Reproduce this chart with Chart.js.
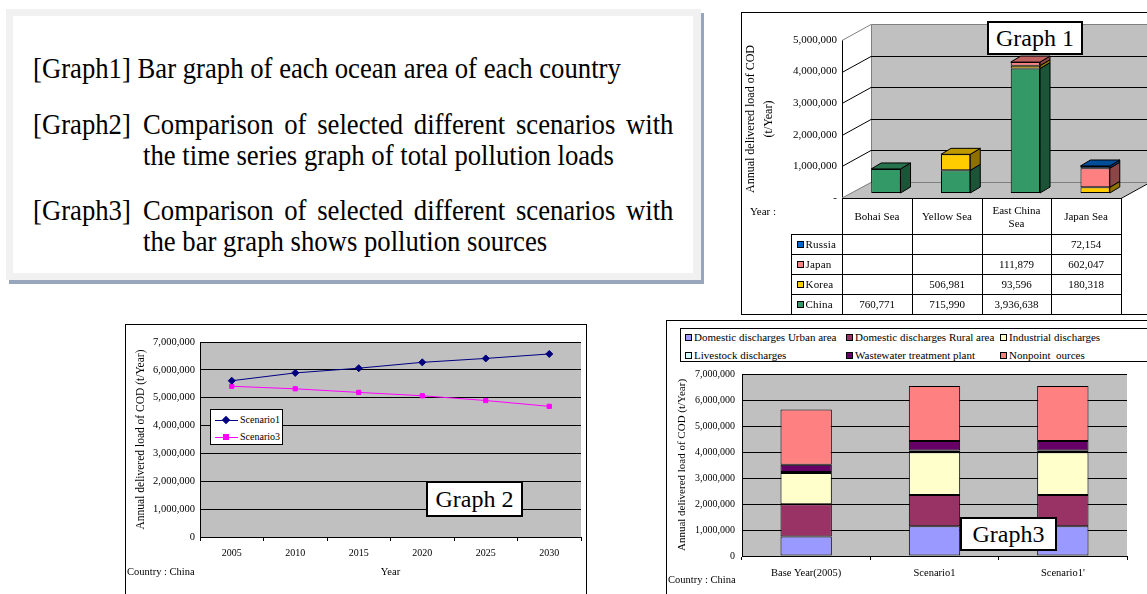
<!DOCTYPE html>
<html>
<head>
<meta charset="utf-8">
<title>COD pollution loads</title>
<script src="https://cdn.jsdelivr.net/npm/chart.js@4/dist/chart.umd.min.js"></script>
<style>
  html, body { margin: 0; padding: 0; background: #fff; }
  body { width: 1147px; height: 594px; position: relative; overflow: hidden;
         font-family: "Liberation Serif", "Times New Roman", serif; color: #000; }
  .abs { position: absolute; }
  #note { left: 6px; top: 9px; width: 695px; height: 271px; background: #f1f1f1;
          box-shadow: 3px 4px 0 #97a6bd; }
  #noteInner { left: 13px; top: 16px; width: 680px; height: 257px; background: #fff; }
  .nl { position: absolute; font-size: 30px; line-height: 31px; white-space: nowrap;
        transform: scaleX(0.89); transform-origin: 0 0; }
  .just { text-align: justify; text-align-last: justify; white-space: normal; }
  .frame { position: absolute; border: 1px solid #000; box-sizing: border-box; background: #fff; }
  .tag { position: absolute; box-sizing: border-box; border: 2px solid #000; background: #fff;
         font-size: 24px; text-align: center; white-space: nowrap; }
  canvas { position: absolute; }
  #t1 { position: absolute; left: 742px; top: 198px; border-collapse: collapse; table-layout: fixed;
        font-size: 11px; }
  #t1 td { border: 1px solid #000; padding: 0; text-align: center; vertical-align: middle;
           line-height: 13px; }
  #t1 td.nb { border: none; }
  #t1 td.key { text-align: left; padding-left: 5px; white-space: nowrap; letter-spacing: 0.2px; }
  #t1 td.yr { text-align: left; vertical-align: top; padding: 6px 0 0 8px; }
  .sw { display: inline-block; width: 7px; height: 7px; box-sizing: border-box; border: 1px solid #000;
        margin-right: 2px; vertical-align: 0px; }
  .small { position: absolute; font-size: 10.5px; white-space: nowrap; }
  #lg2 { left: 210px; top: 409px; width: 73px; height: 36px; border: 1px solid #000; box-sizing: border-box;
         background: #fff; }
  #lg3 { left: 680px; top: 328px; width: 480px; height: 34px; border: 1px solid #000; box-sizing: border-box;
         background: #fff; }
  .li { position: absolute; font-size: 11px; white-space: pre; line-height: 13px; }
</style>
</head>
<body>

<!-- description panel -->
<div id="note" class="abs"></div>
<div id="noteInner" class="abs"></div>
<div class="nl" style="left:33px; top:52px;">[Graph1] Bar graph of each ocean area of each country</div>
<div class="nl" style="left:33px; top:108px;">[Graph2]</div>
<div class="nl just" style="left:143px; top:108px; width:596px;">Comparison of selected different scenarios with</div>
<div class="nl" style="left:143px; top:139px;">the time series graph of total pollution loads</div>
<div class="nl" style="left:33px; top:194px;">[Graph3]</div>
<div class="nl just" style="left:143px; top:194px; width:596px;">Comparison of selected different scenarios with</div>
<div class="nl" style="left:143px; top:225px;">the bar graph shows pollution sources</div>

<!-- Graph 1 -->
<div class="frame" style="left:741px; top:12px; width:500px; height:303px;"></div>
<canvas id="c1" width="405" height="200" style="left:742px; top:13px;"></canvas>
<table id="t1"></table>
<div class="tag" style="left:987px; top:21px; width:96px; height:34px; line-height:30px;">Graph 1</div>

<!-- Graph 2 -->
<div class="frame" style="left:125px; top:324px; width:462px; height:290px;"></div>
<canvas id="c2" width="460" height="269" style="left:126px; top:325px;"></canvas>
<div id="lg2" class="abs"></div>
<div class="tag" style="left:426px; top:481px; width:97px; height:36px; line-height:32px;">Graph 2</div>
<div class="small" style="left:127px; top:566px;">Country : China</div>

<!-- Graph 3 -->
<div class="frame" style="left:666px; top:320px; width:500px; height:290px;"></div>
<canvas id="c3" width="480" height="273" style="left:667px; top:321px;"></canvas>
<div id="lg3" class="abs"></div>
<div class="tag" style="left:960px; top:517px; width:97px; height:34px; line-height:30px;">Graph3</div>
<div class="small" style="left:668px; top:574px;">Country : China</div>

<script>
// ---- Graph 1: annual delivered COD load by sea area and country (t/year) ----
const seaAreas   = ['Bohai Sea', 'Yellow Sea', 'East China Sea', 'Japan Sea'];
const chinaLoad  = [760771, 715990, 3936638, null];
const koreaLoad  = [null, 506981, 93596, 180318];
const japanLoad  = [null, null, 111879, 602047];
const russiaLoad = [null, null, null, 72154];
const loadTicks1 = [0, 1000000, 2000000, 3000000, 4000000, 5000000];

// ---- Graph 2: total load time series, China (t/year) ----
const years     = ['2005', '2010', '2015', '2020', '2025', '2030'];
const scenario1 = [5610000, 5890000, 6060000, 6270000, 6410000, 6570000];
const scenario3 = [5410000, 5320000, 5190000, 5070000, 4900000, 4690000];

// ---- Graph 3: load by pollution source, China (t/year) ----
const cases         = ['Base Year(2005)', 'Scenario1', "Scenario1'"];
const urbanLoad     = [750000, 1140000, 1140000];
const ruralLoad     = [1240000, 1210000, 1210000];
const industryLoad  = [1200000, 1640000, 1640000];
const livestockLoad = [40000, 70000, 70000];
const wwtpLoad      = [280000, 360000, 360000];
const nonpointLoad  = [2120000, 2120000, 2120000];

const serif = '"Liberation Serif", "Times New Roman", serif';
Chart.defaults.font.family = serif;
Chart.defaults.color = '#000';
Chart.defaults.animation = false;
Chart.defaults.responsive = false;
Chart.defaults.plugins.legend.display = false;
Chart.defaults.plugins.tooltip.enabled = false;

const fmt = v => v.toLocaleString('en-US');

function shade(hex, f) {
  const n = parseInt(hex.slice(1), 16);
  const r = Math.round(((n >> 16) & 255) * f);
  const g = Math.round(((n >> 8) & 255) * f);
  const b = Math.round((n & 255) * f);
  return `rgb(${r},${g},${b})`;
}

// grey plotting area behind grid and series
const plotBg = {
  id: 'plotBg',
  beforeDraw(chart, args, o) {
    const { ctx, chartArea: a } = chart;
    ctx.save();
    ctx.fillStyle = o.color;
    ctx.fillRect(a.left, a.top, a.right - a.left, a.bottom - a.top);
    ctx.restore();
  }
};

// pseudo-3D look: walls, floor, and bars pushed back with side/top faces
const depth3d = {
  id: 'depth3d',
  beforeDatasetsDraw(chart, args, o) {
    const { ctx, chartArea: a, scales: { y } } = chart;
    const far = chart.width + 4;
    const y0 = y.getPixelForValue(0);
    const yt = y.getPixelForValue(y.max);
    const wx = o.wallDx, wy = o.wallDy;
    ctx.save();
    ctx.lineWidth = 1;
    // back wall
    ctx.fillStyle = '#c0c0c0';
    ctx.fillRect(a.left + wx, yt + wy, far - (a.left + wx), y0 - yt);
    // floor
    ctx.beginPath();
    ctx.moveTo(a.left, y0); ctx.lineTo(a.right, y0);
    ctx.lineTo(a.right + wx, y0 + wy); ctx.lineTo(a.left + wx, y0 + wy);
    ctx.closePath(); ctx.fill();
    // wall outline
    ctx.strokeStyle = '#808080';
    ctx.beginPath();
    ctx.moveTo(a.left + wx + 0.5, y0 + wy); ctx.lineTo(a.left + wx + 0.5, yt + wy + 0.5);
    ctx.lineTo(far, yt + wy + 0.5);
    ctx.moveTo(a.left, yt + 0.5); ctx.lineTo(a.left + wx, yt + wy + 0.5);
    ctx.moveTo(a.left, y0); ctx.lineTo(a.left + wx, y0 + wy + 0.5); ctx.lineTo(far, y0 + wy + 0.5);
    ctx.stroke();
    // grid lines folded over the side wall and back wall
    ctx.strokeStyle = '#000';
    ctx.beginPath();
    y.ticks.forEach(t => {
      if (t.value === 0 || t.value === y.max) return;
      const py = Math.round(y.getPixelForValue(t.value)) + 0.5;
      ctx.moveTo(a.left, py); ctx.lineTo(a.left + wx, py + wy); ctx.lineTo(far, py + wy);
    });
    // front and right floor edges
    ctx.moveTo(a.left, y0 + 0.5); ctx.lineTo(a.right, y0 + 0.5);
    ctx.lineTo(a.right + wx, y0 + wy + 0.5);
    ctx.stroke();
    ctx.restore();
    ctx.save();
    ctx.translate(o.barDx, o.barDy);
  },
  afterDatasetsDraw(chart, args, o) {
    const { ctx } = chart;
    const bx = o.depthX, by = o.depthY;
    const face = (pts, fill) => {
      ctx.beginPath();
      ctx.moveTo(pts[0][0], pts[0][1]);
      for (let k = 1; k < pts.length; k++) ctx.lineTo(pts[k][0], pts[k][1]);
      ctx.closePath();
      ctx.fillStyle = fill; ctx.fill();
      ctx.strokeStyle = '#000'; ctx.lineWidth = 1; ctx.stroke();
    };
    const metas = chart.getSortedVisibleDatasetMetas().slice().sort((p, q) => p.index - q.index);
    chart.data.labels.forEach((lab, i) => {
      let top = null;
      metas.forEach(m => {
        const ds = chart.data.datasets[m.index];
        const v = ds.data[i];
        if (v == null || v === 0) return;
        const { x, y, base, width } = m.data[i].getProps(['x', 'y', 'base', 'width'], true);
        const l = x - width / 2, r = x + width / 2;
        face([[r, y], [r + bx, y + by], [r + bx, base + by], [r, base]], shade(ds.backgroundColor, 0.55));
        top = { l, r, y, c: ds.backgroundColor };
      });
      if (top) face([[top.l, top.y], [top.r, top.y], [top.r + bx, top.y + by], [top.l + bx, top.y + by]],
                     shade(top.c, 0.75));
    });
    ctx.restore();
  }
};

// ---------- Graph 1 ----------
const countries = [
  { name: 'China',  data: chinaLoad,  color: '#339966' },
  { name: 'Korea',  data: koreaLoad,  color: '#ffcc00' },
  { name: 'Japan',  data: japanLoad,  color: '#ff8080' },
  { name: 'Russia', data: russiaLoad, color: '#0066cc' }
];

new Chart(document.getElementById('c1'), {
  type: 'bar',
  data: {
    labels: seaAreas,
    datasets: countries.map(c => ({
      label: c.name, data: c.data, backgroundColor: c.color,
      borderColor: '#000', borderWidth: 1, borderSkipped: false,
      barPercentage: 0.42, categoryPercentage: 1, clip: false
    }))
  },
  options: {
    layout: { padding: { top: 27, right: 26, bottom: 15, left: 0 } },
    scales: {
      x: { display: false, stacked: true, offset: true },
      y: {
        stacked: true, min: 0, max: 5000000,
        afterFit(s) { s.width = 100; },
        afterBuildTicks(s) { s.ticks = loadTicks1.map(v => ({ value: v })); },
        border: { display: true, color: '#000' },
        grid: { display: false, drawTicks: false },
        ticks: { padding: 5, font: { size: 11 }, callback: v => v === 0 ? '-' : fmt(v) },
        title: { display: true, text: ['Annual delivered load of COD', '(t/Year)'],
                 font: { size: 12, lineHeight: 1.5 }, padding: { top: 0, bottom: 0 } }
      }
    },
    plugins: { depth3d: { wallDx: 29, wallDy: -16, barDx: 9, barDy: -5, depthX: 10, depthY: -6 } }
  },
  plugins: [depth3d]
});

// data table under Graph 1, top row of the stack first
(function buildTable() {
  const t = document.getElementById('t1');
  const widths = [49, 51, 70, 70, 69, 70];
  let html = '<colgroup>' + widths.map(w => `<col style="width:${w}px">`).join('') + '</colgroup>';
  html += '<tr style="height:36px"><td class="nb yr">Year :</td><td class="nb"></td>' +
          seaAreas.map(s => `<td style="padding:0 6px">${s}</td>`).join('') + '</tr>';
  countries.slice().reverse().forEach(c => {
    html += '<tr style="height:20px"><td class="nb"></td>' +
            `<td class="key"><span class="sw" style="background:${c.color}"></span>${c.name}</td>` +
            c.data.map(v => `<td>${v == null ? '' : fmt(v)}</td>`).join('') + '</tr>';
  });
  t.innerHTML = html;
})();

// ---------- Graph 2 ----------
const scenarios = [
  { name: 'Scenario1', data: scenario1, color: '#000080', style: 'rectRot', r: 3.5 },
  { name: 'Scenario3', data: scenario3, color: '#ff00ff', style: 'rect', r: 3 }
];

new Chart(document.getElementById('c2'), {
  type: 'line',
  data: {
    labels: years,
    datasets: scenarios.map(s => ({
      label: s.name, data: s.data, borderColor: s.color, backgroundColor: s.color,
      borderWidth: 1, pointStyle: s.style, pointRadius: s.r, pointBorderWidth: 1, tension: 0
    }))
  },
  options: {
    layout: { padding: { top: 17, right: 3, bottom: 0, left: 0 } },
    scales: {
      x: {
        offset: true,
        afterFit(s) { s.height = 57; },
        grid: { offset: true, drawOnChartArea: false, drawTicks: true, tickLength: 4, color: '#000' },
        border: { color: '#000' },
        ticks: { padding: 6, font: { size: 10 }, maxRotation: 0 },
        title: { display: true, text: 'Year', font: { size: 10.5 }, padding: { top: 0, bottom: 15 } }
      },
      y: {
        min: 0, max: 7000000,
        afterFit(s) { s.width = 74; },
        grid: { color: '#000', drawTicks: false },
        border: { color: '#000' },
        ticks: { stepSize: 1000000, padding: 5, font: { size: 10.5 }, callback: fmt },
        title: { display: true, text: 'Annual delivered load of COD (t/Year)',
                 font: { size: 11.5 }, padding: { top: 8, bottom: 0 } }
      }
    },
    plugins: { plotBg: { color: '#c0c0c0' } }
  },
  plugins: [plotBg]
});

(function buildLegend2() {
  const box = document.getElementById('lg2');
  scenarios.forEach((s, k) => {
    const cy = 10 + k * 17;
    const mark = s.style === 'rectRot'
      ? `<div class="abs" style="left:12px;top:${cy - 3}px;width:6px;height:6px;background:${s.color};transform:rotate(45deg)"></div>`
      : `<div class="abs" style="left:12px;top:${cy - 3}px;width:6px;height:6px;background:${s.color}"></div>`;
    box.insertAdjacentHTML('beforeend',
      `<div class="abs" style="left:4px;top:${cy}px;width:23px;height:1px;background:${s.color}"></div>` + mark +
      `<div class="abs" style="left:29px;top:${cy - 7}px;font-size:10px;line-height:13px;white-space:nowrap">${s.name}</div>`);
  });
})();

// ---------- Graph 3 ----------
const sources = [
  { name: 'Domestic discharges Urban area', data: urbanLoad,     color: '#9999ff' },
  { name: 'Domestic discharges Rural area', data: ruralLoad,     color: '#993366' },
  { name: 'Industrial discharges',          data: industryLoad,  color: '#ffffcc' },
  { name: 'Livestock discharges',           data: livestockLoad, color: '#ccffff' },
  { name: 'Wastewater treatment plant',     data: wwtpLoad,      color: '#660066' },
  { name: 'Nonpoint  ources',               data: nonpointLoad,  color: '#ff8080' }
];

new Chart(document.getElementById('c3'), {
  type: 'bar',
  data: {
    labels: cases,
    datasets: sources.map(s => ({
      label: s.name, data: s.data, backgroundColor: s.color,
      borderColor: '#000', borderWidth: 1, borderSkipped: false,
      barPercentage: 0.4, categoryPercentage: 1
    }))
  },
  options: {
    layout: { padding: { top: 53, right: 20, bottom: 0, left: 0 } },
    scales: {
      x: {
        stacked: true, offset: true,
        afterFit(s) { s.height = 38; },
        grid: { offset: true, drawOnChartArea: false, drawTicks: true, tickLength: 4, color: '#000' },
        border: { color: '#000' },
        ticks: { padding: 7, font: { size: 10.5 }, maxRotation: 0 }
      },
      y: {
        stacked: true, min: 0, max: 7000000,
        afterFit(s) { s.width = 75; },
        grid: { color: '#000', drawTicks: false },
        border: { color: '#000' },
        ticks: { stepSize: 1000000, padding: 7, font: { size: 10 }, callback: fmt },
        title: { display: true, text: 'Annual delivered load of COD (t/Year)',
                 font: { size: 11 }, padding: { top: 8.5, bottom: 0 } }
      }
    },
    plugins: { plotBg: { color: '#c0c0c0' } }
  },
  plugins: [plotBg]
});

(function buildLegend3() {
  const box = document.getElementById('lg3');
  const colX = [4, 165, 319];
  sources.forEach((s, k) => {
    const x = colX[k % 3], cy = 8 + Math.floor(k / 3) * 18;
    box.insertAdjacentHTML('beforeend',
      `<div class="li" style="left:${x}px;top:${cy - 6}px"><span class="sw" style="background:${s.color}"></span>${s.name}</div>`);
  });
})();
</script>
</body>
</html>
